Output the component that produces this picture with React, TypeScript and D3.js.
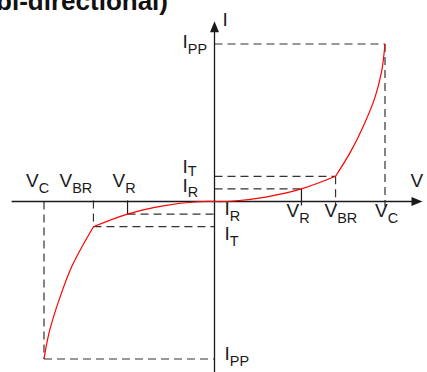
import React from "react";
import * as d3 from "d3";

// characteristic points (arbitrary units)
const voltMarks = { VR: 5.1, VBR: 7.1, VC: 10 };
const currMarks = { IR: 1, IT: 2, IPP: 12.5 };

// red curve, read point by point (V, I); the bend sits at the breakdown point
const posV = [0, 1, 3, 5.1, 7.1, 8.0, 8.8, 9.4, 9.8, 10];
const posI = [0, 0.02, 0.35, 1, 2, 4.0, 6.2, 8.2, 10.3, 12.5];
const negV = [-10, -9.7, -9.1, -8.35, -7.1, -5.1, -3, -1, 0];
const negI = [-12.5, -10.4, -7.75, -5.1, -2, -1, -0.35, -0.02, 0];

const W = 427;
const H = 372;
const ink = "#1a1a1a";
const dashCol = "#333";
const dash = "8,5";

const Label = ({ x, y, main, sub, size = 19, shift = 6 }: { x: number; y: number; main: string; sub?: string; size?: number; shift?: number }) => (
  <text x={x} y={y} fontSize={size} fill={ink} fontFamily="'Liberation Sans', Arial, sans-serif">
    {main}
    {sub && (
      <tspan fontSize={size * 0.76} dy={shift}>
        {sub}
      </tspan>
    )}
  </text>
);

export default function App() {
  const x = d3.scaleLinear().domain([-10, 10]).range([44, 385]);
  const y = d3.scaleLinear().domain([-12.5, 12.5]).range([359, 44]);
  const { VR, VBR, VC } = voltMarks;
  const { IR, IT, IPP } = currMarks;

  const toPts = (vs: number[], is: number[]) => vs.map((v, i) => [v, is[i]] as [number, number]);
  const negPts = toPts(negV, negI);
  const posPts = toPts(posV, posI);
  const nb = negV.indexOf(-VBR);
  const pb = posV.indexOf(VBR);
  const segments = [negPts.slice(0, nb + 1), negPts.slice(nb), posPts.slice(0, pb + 1), posPts.slice(pb)];

  const line = d3
    .line<[number, number]>()
    .x((d) => x(d[0]))
    .y((d) => y(d[1]))
    .curve(d3.curveCatmullRom.alpha(0.5));

  const x0 = x(0);
  const y0 = y(0);
  const xEnd = x(12.2);
  const xStart = x(-11.9);
  const yTop = y(14.3);
  const yBot = y(-14.5);

  const dl = (x1: number, y1: number, x2: number, y2: number, key: string, solid = false) => (
    <line key={key} x1={x1} y1={y1} x2={x2} y2={y2} stroke={solid ? ink : dashCol} strokeWidth={1.2} strokeDasharray={solid ? undefined : dash} />
  );

  return (
    <svg width={W} height={H} style={{ position: "absolute", left: 0, top: 0, background: "#fff" }}>
      <text x={168} y={10} textAnchor="end" fontSize={26} fontWeight="bold" fill="#111" fontFamily="'Liberation Sans', Arial, sans-serif">
        (bi-directional)
      </text>

      {/* guide lines, right/top */}
      {dl(x0, y(IPP), x(VC), y(IPP), "a")}
      {dl(x(VC), y(IPP), x(VC), y0 + 5, "b")}
      {dl(x0, y(IT), x(VBR), y(IT), "c")}
      {dl(x(VBR), y(IT), x(VBR), y0 + 5, "d")}
      {dl(x0, y(IR), x(VR), y(IR), "e")}
      {dl(x(VR), y(IR), x(VR), y0 + 4, "f", true)}

      {/* guide lines, left/bottom */}
      {dl(x(-VC), y(-IPP), x0, y(-IPP), "g")}
      {dl(x(-VC), y0, x(-VC), y(-IPP), "h")}
      {dl(x(-VBR), y(-IT), x0, y(-IT), "i")}
      {dl(x(-VBR), y0 - 1, x(-VBR), y(-IT), "j")}
      {dl(x(-VR), y(-IR), x0, y(-IR), "k")}
      {dl(x(-VR), y0 - 1, x(-VR), y(-IR), "l", true)}

      {/* axes */}
      <line x1={xStart} y1={y0} x2={xEnd - 9} y2={y0} stroke={ink} strokeWidth={1.3} />
      <path d={`M${xEnd},${y0} L${xEnd - 11},${y0 - 4.5} L${xEnd - 11},${y0 + 4.5} Z`} fill={ink} />
      <line x1={x0} y1={yTop + 9} x2={x0} y2={yBot} stroke={ink} strokeWidth={1.3} />
      <path d={`M${x0},${yTop} L${x0 - 4.5},${yTop + 11} L${x0 + 4.5},${yTop + 11} Z`} fill={ink} />

      {segments.map((s, i) => (
        <path key={i} d={line(s) ?? ""} fill="none" stroke="#ff0000" strokeWidth={1.2} />
      ))}

      {/* axis names */}
      <Label x={x0 + 8} y={yTop + 5} main="I" />
      <Label x={xEnd - 12} y={y0 - 15} main="V" />

      {/* current labels */}
      <Label x={x0 - 32} y={y(IPP) + 4} main="I" sub="PP" />
      <Label x={x0 - 32} y={y(IT) - 3} main="I" sub="T" shift={3} />
      <Label x={x0 - 32} y={y(IR) + 3} main="I" sub="R" shift={5} />
      <Label x={x0 + 10} y={y(-IR) + 1} main="I" sub="R" />
      <Label x={x0 + 10} y={y(-IT) + 13} main="I" sub="T" />
      <Label x={x0 + 10} y={y(-IPP) + 1} main="I" sub="PP" />

      {/* voltage labels */}
      <Label x={x(VR) - 15} y={y0 + 15.5} main="V" sub="R" />
      <Label x={x(VBR) - 11} y={y0 + 15.5} main="V" sub="BR" />
      <Label x={x(VC) - 10} y={y0 + 15.5} main="V" sub="C" />
      <Label x={x(-VC) - 18} y={y0 - 14.5} main="V" sub="C" />
      <Label x={x(-VBR) - 34} y={y0 - 14.5} main="V" sub="BR" />
      <Label x={x(-VR) - 15} y={y0 - 14.5} main="V" sub="R" />
    </svg>
  );
}
